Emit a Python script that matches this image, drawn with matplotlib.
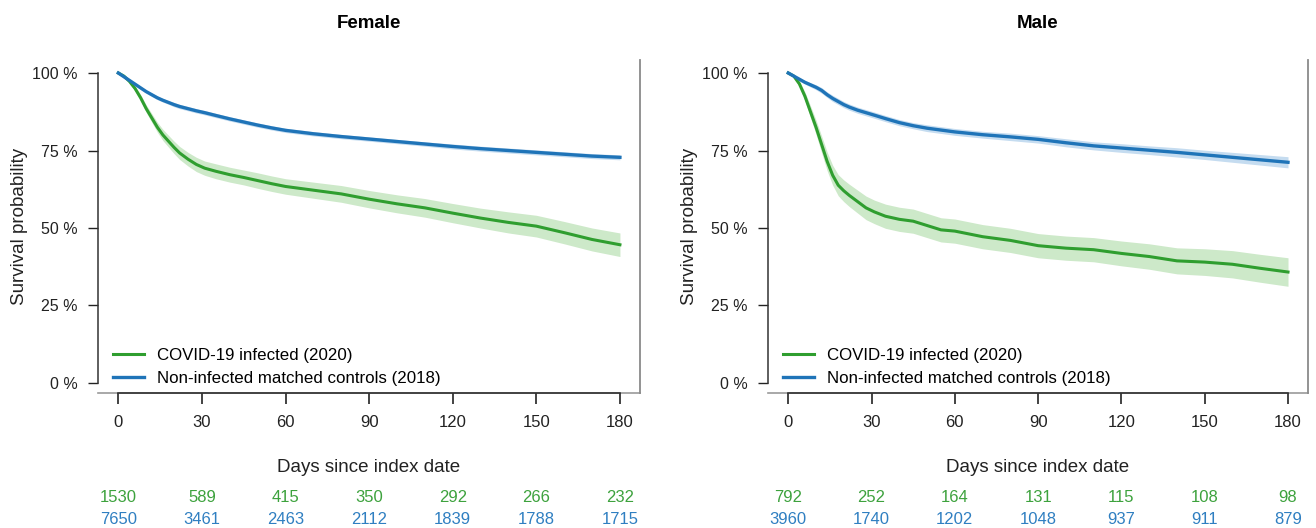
import matplotlib
matplotlib.use("Agg")
import matplotlib.pyplot as plt
import matplotlib.transforms as mtransforms
import numpy as np

plt.rcParams['font.family'] = ['Liberation Sans', 'DejaVu Sans']

# ---------------- data ----------------
days = [0, 2, 4, 6, 8, 10, 12, 14, 16, 18, 20, 22, 25, 28, 31, 35, 40, 45, 50,
        55, 60, 70, 80, 90, 100, 110, 120, 130, 140, 150, 160, 170, 180]

female_covid = [100, 99, 97.3, 95, 92, 88.5, 85.5, 82.5, 80, 78, 76, 74.2, 72.2, 70.5,
                69.3, 68.3, 67.2, 66.3, 65.3, 64.3, 63.4, 62.2, 61, 59.3, 57.8, 56.5,
                54.8, 53.2, 51.8, 50.6, 48.5, 46.3, 44.6]
female_covid_hw = [0, 0.3, 0.6, 0.8, 1.0, 1.2, 1.4, 1.6, 1.8, 1.9, 2.0, 2.1, 2.2, 2.3,
                   2.3, 2.4, 2.4, 2.4, 2.5, 2.5, 2.5, 2.6, 2.7, 2.8, 2.9, 3.0, 3.1, 3.2,
                   3.4, 3.5, 3.6, 3.7, 3.8]
female_ctrl = [100, 98.8, 97.6, 96.4, 95.2, 94, 93, 92, 91.2, 90.5, 89.8, 89.2, 88.5,
               87.8, 87.2, 86.3, 85.2, 84.2, 83.2, 82.3, 81.5, 80.4, 79.5, 78.7, 77.9,
               77.1, 76.3, 75.6, 75, 74.4, 73.8, 73.2, 72.8]
female_ctrl_hw = [0, 0.2, 0.3, 0.4, 0.5, 0.5, 0.6, 0.6, 0.6, 0.6, 0.7, 0.7, 0.7, 0.7,
                  0.7, 0.7, 0.7, 0.7, 0.7, 0.7, 0.7, 0.7, 0.7, 0.7, 0.7, 0.7, 0.8, 0.8,
                  0.8, 0.8, 0.8, 0.8, 0.8]

male_covid = [100, 99, 96.5, 92.5, 87.5, 82.5, 77, 71.5, 67, 63.8, 62, 60.5, 58.5, 56.5,
              55.2, 53.8, 52.8, 52.2, 50.8, 49.4, 49, 47.2, 46, 44.3, 43.5, 43, 41.8,
              40.8, 39.4, 39, 38.3, 37, 35.8]
male_covid_hw = [0, 0.4, 0.9, 1.4, 1.9, 2.3, 2.7, 3.0, 3.2, 3.4, 3.5, 3.6, 3.7, 3.8, 3.8,
                 3.9, 3.9, 3.9, 3.9, 3.9, 3.9, 3.9, 3.9, 3.9, 3.9, 3.9, 4.0, 4.1, 4.2,
                 4.3, 4.4, 4.5, 4.6]
male_ctrl = [100, 99, 98, 97, 96.2, 95.4, 94.4, 93, 91.8, 90.8, 89.8, 89, 88, 87.2, 86.4,
             85.3, 84, 83, 82.2, 81.6, 81, 80.1, 79.4, 78.6, 77.5, 76.5, 75.8, 75.1,
             74.4, 73.6, 72.8, 72, 71.2]
male_ctrl_hw = [0, 0.3, 0.5, 0.6, 0.7, 0.8, 0.9, 0.9, 1.0, 1.0, 1.0, 1.0, 1.0, 1.0, 1.0,
                1.0, 1.0, 1.0, 1.1, 1.1, 1.1, 1.1, 1.2, 1.2, 1.3, 1.3, 1.4, 1.4, 1.5,
                1.5, 1.6, 1.7, 1.8]

risk_times = [0, 30, 60, 90, 120, 150, 180]
female_risk_covid = [1530, 589, 415, 350, 292, 266, 232]
female_risk_ctrl = [7650, 3461, 2463, 2112, 1839, 1788, 1715]
male_risk_covid = [792, 252, 164, 131, 115, 108, 98]
male_risk_ctrl = [3960, 1740, 1202, 1048, 937, 911, 879]

y_ticks = [0, 25, 50, 75, 100]
y_ticklabels = ["0 %", "25 %", "50 %", "75 %", "100 %"]
legend_labels = ["COVID-19 infected (2020)", "Non-infected matched controls (2018)"]

GREEN = "#2f9e2f"
BLUE = "#1f74b8"
GREEN_BAND = "#cde9c9"
BLUE_BAND = "#c5dcf0"
GREEN_TXT = "#3da23d"
BLUE_TXT = "#2f7fc1"

fig = plt.figure(figsize=(13.16, 5.28), dpi=100)

panels = [
    ("Female", [98 / 1316, 135 / 528, 542 / 1316, 333 / 528],
     female_covid, female_covid_hw, female_ctrl, female_ctrl_hw,
     female_risk_covid, female_risk_ctrl),
    ("Male", [768 / 1316, 135 / 528, 540 / 1316, 333 / 528],
     male_covid, male_covid_hw, male_ctrl, male_ctrl_hw,
     male_risk_covid, male_risk_ctrl),
]

t = np.array(days)
for title, rect, cov, cov_hw, ctl, ctl_hw, rk_cov, rk_ctl in panels:
    ax = fig.add_axes(rect)
    cov = np.array(cov); cov_hw = np.array(cov_hw)
    ctl = np.array(ctl); ctl_hw = np.array(ctl_hw)
    ax.fill_between(t, ctl - ctl_hw, ctl + ctl_hw, color=BLUE_BAND, lw=0, zorder=1)
    ax.fill_between(t, cov - cov_hw, cov + cov_hw, color=GREEN_BAND, lw=0, zorder=1)
    ax.plot(t, cov, color=GREEN, lw=2.2, label=legend_labels[0], zorder=3)
    ax.plot(t, ctl, color=BLUE, lw=2.4, label=legend_labels[1], zorder=3)

    ax.set_xlim(-7.3, 187.2)
    ax.set_ylim(-3.23, 104.2)
    ax.set_yticks(y_ticks)
    ax.set_yticklabels(y_ticklabels)
    ax.set_xticks(risk_times)

    ax.spines["top"].set_visible(False)
    ax.spines["left"].set_bounds(0, 100)
    ax.spines["left"].set_color("#333333")
    ax.spines["left"].set_linewidth(1.1)
    ax.spines["bottom"].set_bounds(0, 180)
    ax.spines["bottom"].set_color("#333333")
    ax.spines["bottom"].set_linewidth(1.2)
    ax.spines["right"].set_color("#8a8a8a")
    ax.spines["right"].set_linewidth(1.3)
    ax.plot([0, 1], [0, 0], transform=ax.transAxes, color="#9a9a9a", lw=1.2,
            clip_on=False, zorder=0)

    ax.tick_params(axis="y", direction="out", length=7.5, width=1.0, pad=7,
                   labelsize=11.5, colors="#222222")
    ax.tick_params(axis="x", direction="out", length=8, width=1.2, pad=7.5,
                   labelsize=12, colors="#222222")

    ax.set_xlabel("Days since index date", fontsize=13.5, labelpad=21, color="#222222")
    ax.set_ylabel("Survival probability", fontsize=13.5, color="#222222")
    ax.yaxis.set_label_coords(-0.129, 0.5)
    ax.set_title(title, fontsize=13.5, fontweight="bold", pad=23)

    ax.legend(loc="lower left", frameon=False, fontsize=12.2, handlelength=1.85,
              handletextpad=0.75, labelspacing=0.5, borderaxespad=0,
              bbox_to_anchor=(0.015, 0.0))

    trans = mtransforms.blended_transform_factory(ax.transData, fig.transFigure)
    for x, a, b in zip(risk_times, rk_cov, rk_ctl):
        ax.text(x, 1 - 497 / 528, str(a), transform=trans, ha="center", va="center",
                fontsize=12, color=GREEN_TXT, clip_on=False)
        ax.text(x, 1 - 519 / 528, str(b), transform=trans, ha="center", va="center",
                fontsize=12, color=BLUE_TXT, clip_on=False)

fig.savefig("out.png", dpi=100)
